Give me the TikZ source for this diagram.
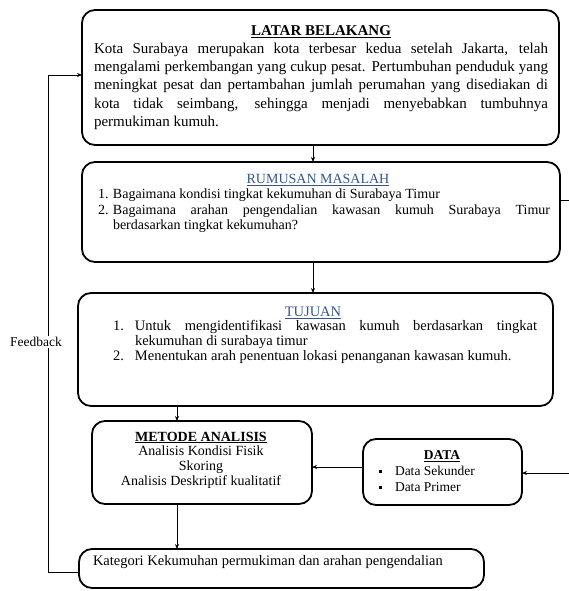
\documentclass[tikz,border=0pt]{standalone}
\usepackage{fontspec}
\setmainfont{Liberation Serif}
\usetikzlibrary{arrows.meta}
\definecolor{tblue}{RGB}{50,85,145}
\begin{document}
\begin{tikzpicture}[x=1pt,y=-1pt,
  box/.style={draw, line width=1.8pt, rounded corners=13pt, inner sep=0pt, outer sep=0pt},
  txt/.style={inner sep=0pt, outer sep=0pt},
  arr/.style={line width=0.7pt, -{Stealth[length=5pt,width=4pt]}},
  plain/.style={line width=0.7pt}]
\useasboundingbox (0,0) rectangle (569,591);

% boxes
\node[box, minimum width=477pt, minimum height=135pt] (b1) at (320.5,77.5) {};
\node[box, minimum width=478pt, minimum height=100pt] (b2) at (321,212) {};
\node[box, minimum width=475pt, minimum height=113pt] (b3) at (315.5,349.5) {};
\node[box, minimum width=220pt, minimum height=83pt] (metode) at (202,462.5) {};
\node[box, minimum width=159pt, minimum height=66pt] (data) at (442.5,472) {};
\node[box, minimum width=405pt, minimum height=39pt] (kat) at (281.5,568.5) {};

% texts
\node[txt, align=center, font=\fontsize{15}{18.2}\selectfont] (t1) at (321,77.5) {%
\underline{\textbf{LATAR BELAKANG}}\\
\makebox[454pt][s]{Kota Surabaya merupakan kota terbesar kedua setelah Jakarta, telah}\\
\makebox[454pt][s]{mengalami perkembangan yang cukup pesat. Pertumbuhan penduduk yang}\\
\makebox[454pt][s]{meningkat pesat dan pertambahan jumlah perumahan yang disediakan di}\\
\makebox[454pt][s]{kota tidak seimbang, sehingga menjadi menyebabkan tumbuhnya}\\
\makebox[454pt][l]{permukiman kumuh.}};

\node[txt, align=center, font=\fontsize{14}{15.5}\selectfont] (t2) at (324,203.5) {%
\makebox[452pt]{\hspace*{-12pt}\textcolor{tblue}{\underline{RUMUSAN MASALAH}}}\\
\makebox[452pt][l]{\makebox[15pt][l]{1.}Bagaimana kondisi tingkat kekumuhan di Surabaya Timur}\\
\makebox[452pt][s]{\makebox[15pt][l]{2.}Bagaimana arahan pengendalian kawasan kumuh Surabaya Timur}\\
\makebox[452pt][l]{\hspace*{15pt}berdasarkan tingkat kekumuhan?}};

\node[txt, align=center, font=\fontsize{14.5}{14.6}\selectfont] (t3) at (325,335) {%
\makebox[424pt]{\hspace*{-24pt}\textcolor{tblue}{\underline{TUJUAN}}}\\
\makebox[424pt][s]{\makebox[22pt][l]{1.}Untuk mengidentifikasi kawasan kumuh berdasarkan tingkat}\\
\makebox[424pt][l]{\hspace*{22pt}kekumuhan di surabaya timur}\\
\makebox[424pt][l]{\makebox[22pt][l]{2.}Menentukan arah penentuan lokasi penanganan kawasan kumuh.}};

\node[txt, align=center, font=\fontsize{14}{14.7}\selectfont] (t4) at (201,460) {%
\underline{\textbf{METODE ANALISIS}}\\
Analisis Kondisi Fisik\\
Skoring\\
Analisis Deskriptif kualitatif};

\node[txt, align=center, font=\fontsize{13.5}{16}\selectfont] (t5) at (442,471) {%
\makebox[126pt]{\underline{\textbf{DATA}}}\\
\makebox[126pt][l]{\makebox[16pt][l]{\rule[2.5pt]{3pt}{3pt}}Data Sekunder}\\
\makebox[126pt][l]{\makebox[16pt][l]{\rule[2.5pt]{3pt}{3pt}}Data Primer}};

\node[txt, anchor=west, font=\fontsize{14.5}{16}\selectfont] (t6) at (93,562) {Kategori Kekumuhan permukiman dan arahan pengendalian};

% connectors
\coordinate (ax) at (313,0);
\coordinate (bx) at (177,0);
\coordinate (cy) at (0,467);
\coordinate (re) at (569,473);
\coordinate (rs) at (569,200);
\coordinate (fx) at (48,0);
\coordinate (fy1) at (0,572);
\coordinate (fy2) at (0,75);

\draw[arr] (b1.south -| ax) -- (b2.north -| ax);
\draw[arr] (b2.south -| ax) -- (b3.north -| ax);
\draw[arr] (b3.south -| bx) -- (metode.north -| bx);
\draw[arr] (metode.south -| bx) -- (kat.north -| bx);
\draw[arr] (data.west |- cy) -- (metode.east |- cy);
\draw[arr] (re) -- (data.east |- re);
\draw[plain] (b2.east |- rs) -- (rs);
\draw[arr] (kat.west |- fy1) -- (fx |- fy1) -- (fx |- fy2) -- (b1.west |- fy2);

\node[fill=white, inner sep=1pt, font=\fontsize{13.5}{15}\selectfont] (fb) at (36,342) {Feedback};
\end{tikzpicture}
\end{document}
